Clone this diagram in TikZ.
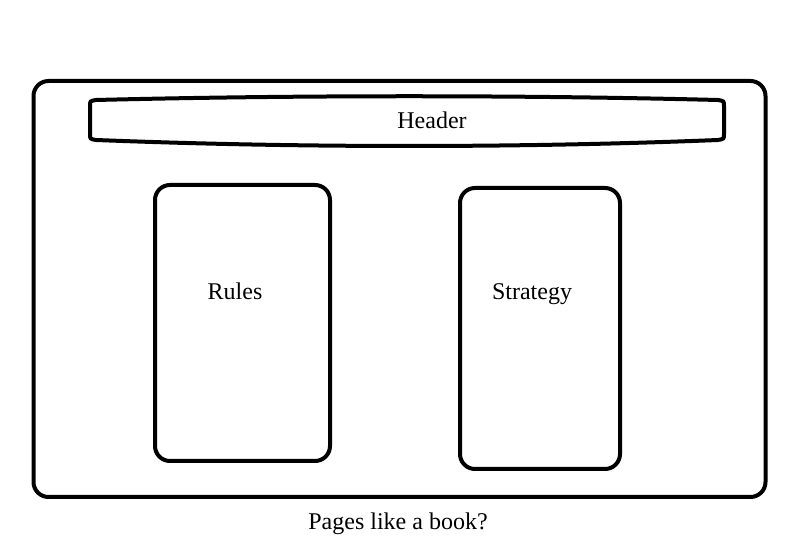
\documentclass[tikz,border=0pt]{standalone}
\usepackage{fontspec}
\setmainfont{Liberation Serif}
\usetikzlibrary{positioning}

\tikzset{
  panel/.style={draw, line width=2pt, rounded corners=7.5pt},
}

\begin{document}
\begin{tikzpicture}[x=0.5pt, y=-0.5pt, every node/.style={font=\fontsize{12}{14}\selectfont, align=center}]
	\useasboundingbox (0,0) rectangle (798,560);

	% Page
	\node[panel, minimum width=366pt, minimum height=208pt] (page) at (399.5,289) {};
	% Header
	\node[anchor=base] (header) at (432,129) {Header};
	\draw[line width=2pt] (96,100) .. controls (300,95) and (520,95) .. (718,100)
		.. controls (724,101) .. (724,106) -- (724,134)
		.. controls (724,139) .. (718,140)
		.. controls (520,148) and (300,148) .. (96,140)
		.. controls (90,139) .. (90,134) -- (90,106)
		.. controls (90,101) .. cycle;
	% Columns
	\node[panel, minimum width=87.5pt, minimum height=138pt] (rulesbox) at (242.5,323) {};
	\node[anchor=base] (rules) at (235,300) {Rules};
	\node[panel, minimum width=80pt, minimum height=140.5pt] (stratbox) at (540,328.5) {};
	\node[anchor=base] (strategy) at (532,300) {Strategy};
	% Caption
	\node[anchor=base] (caption) at (398,530) {Pages like a book?};
\end{tikzpicture}
\end{document}
